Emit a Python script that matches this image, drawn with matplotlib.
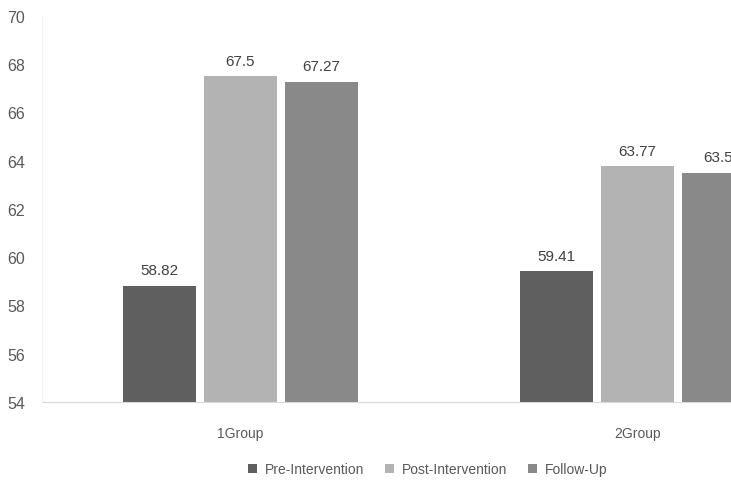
import numpy as np
import matplotlib.pyplot as plt

plt.rcParams['font.family'] = ['Liberation Sans', 'DejaVu Sans']

groups = ['1Group', '2Group']
series = ['Pre-Intervention', 'Post-Intervention', 'Follow-Up']
pre = [58.82, 59.41]
post = [67.5, 63.77]
follow = [67.27, 63.5]
colors = ['#5f5f5f', '#b3b3b3', '#898989']

W, H = 731, 481
fig = plt.figure(figsize=(W / 100, H / 100), dpi=100)
# axes runs past the right edge, like the cropped original
ax = fig.add_axes([42 / W, 1 - 403 / H, 794 / W, 386 / H])

x = np.arange(len(groups))
step = 0.204
width = 0.184
for i, (vals, name) in enumerate(zip([pre, post, follow], series)):
    pos = x + (i - 1) * step
    bars = ax.bar(pos, np.array(vals) - 54, width, bottom=54, color=colors[i], label=name)
    for b, v in zip(bars, vals):
        ax.text(b.get_x() + b.get_width() / 2, v + 0.35, f'{v:g}', ha='center', va='bottom',
                fontsize=11, color='#404040')

ax.set_xlim(-0.5, 1.5)
ax.set_ylim(54, 70)
ax.set_yticks(np.arange(54, 71, 2))
ax.set_xticks(x)
ax.set_xticklabels(groups, fontsize=10, color='#595959')
ax.tick_params(axis='y', labelsize=11.5, colors='#595959', length=0, pad=12)
ax.tick_params(axis='x', length=0, pad=17)
for s in ['top', 'right']:
    ax.spines[s].set_visible(False)
ax.spines['bottom'].set_color('#d9d9d9')
ax.spines['left'].set_color('#f2f2f2')

fig.legend(loc='center', bbox_to_anchor=(428 / W, 1 - 470 / H), ncol=3, frameon=False,
           fontsize=10, handlelength=0.6, handleheight=0.6, handletextpad=0.6,
           columnspacing=1.5, labelcolor='#595959')

fig.savefig('out.png', dpi=100)
